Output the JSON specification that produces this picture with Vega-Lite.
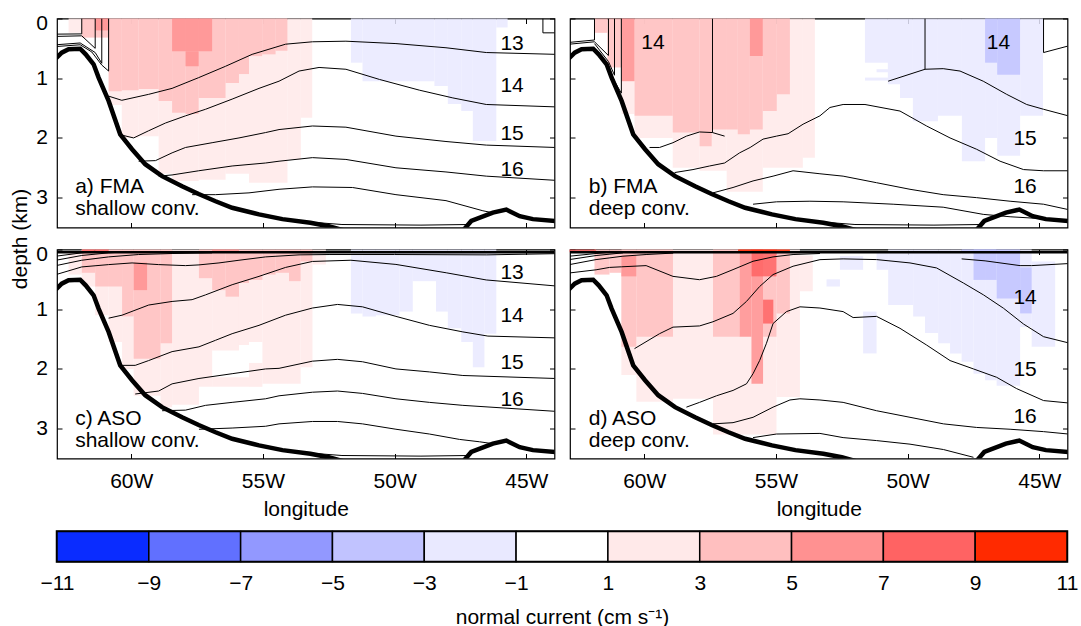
{
"$schema":"https://vega.github.io/schema/vega-lite/v6.json",
"background":"white",
"padding":{"left":8,"top":11.5,"right":0,"bottom":0},
"spacing":9,
"config":{
 "font":"Liberation Sans",
 "view":{"stroke":"black","strokeWidth":1.2},
 "axis":{"domain":false,"grid":false,"ticks":true,"tickSize":-5,"tickColor":"black","tickWidth":1,"zindex":1,
  "labelFont":"Liberation Sans","labelFontSize":21,"labelColor":"black",
  "titleFont":"Liberation Sans","titleFontSize":21,"titleFontWeight":"normal","titleColor":"black"},
 "text":{"font":"Liberation Sans","fontSize":21,"color":"black"}
},
"datasets":{
 "cells":[
  {"p":"a","x1":-62.38,"x2":-61.88,"y1":0,"y2":0.24,"v":2},
  {"p":"a","x1":-60.86,"x2":-60.36,"y1":0,"y2":1.45,"v":2},
  {"p":"a","x1":-60.36,"x2":-59.72,"y1":0,"y2":2.0,"v":2},
  {"p":"a","x1":-59.72,"x2":-58.96,"y1":0,"y2":1.97,"v":2},
  {"p":"a","x1":-58.96,"x2":-58.45,"y1":0,"y2":2.6,"v":2},
  {"p":"a","x1":-58.45,"x2":-57.44,"y1":0,"y2":2.72,"v":2},
  {"p":"a","x1":-57.44,"x2":-56.42,"y1":0,"y2":2.7,"v":2},
  {"p":"a","x1":-56.42,"x2":-55.53,"y1":0,"y2":2.6,"v":2},
  {"p":"a","x1":-55.53,"x2":-54.07,"y1":0,"y2":2.75,"v":2},
  {"p":"a","x1":-54.07,"x2":-53.56,"y1":0,"y2":2.36,"v":2},
  {"p":"a","x1":-53.56,"x2":-53.13,"y1":0,"y2":1.66,"v":2},
  {"p":"a","x1":-61.88,"x2":-60.86,"y1":0,"y2":0.32,"v":4},
  {"p":"a","x1":-60.86,"x2":-60.36,"y1":0,"y2":1.22,"v":4},
  {"p":"a","x1":-60.36,"x2":-59.72,"y1":0,"y2":1.2,"v":4},
  {"p":"a","x1":-59.72,"x2":-58.96,"y1":0,"y2":1.18,"v":4},
  {"p":"a","x1":-58.96,"x2":-58.45,"y1":0,"y2":1.38,"v":4},
  {"p":"a","x1":-58.45,"x2":-57.94,"y1":0,"y2":1.58,"v":4},
  {"p":"a","x1":-57.94,"x2":-57.44,"y1":0,"y2":1.6,"v":4},
  {"p":"a","x1":-57.44,"x2":-56.42,"y1":0,"y2":1.33,"v":4},
  {"p":"a","x1":-56.42,"x2":-55.91,"y1":0,"y2":1.08,"v":4},
  {"p":"a","x1":-55.91,"x2":-55.53,"y1":0,"y2":0.93,"v":4},
  {"p":"a","x1":-55.53,"x2":-55.03,"y1":0,"y2":0.63,"v":4},
  {"p":"a","x1":-55.03,"x2":-54.52,"y1":0,"y2":0.6,"v":4},
  {"p":"a","x1":-54.52,"x2":-54.07,"y1":0,"y2":0.54,"v":4},
  {"p":"a","x1":-61.37,"x2":-60.86,"y1":0,"y2":0.2,"v":6},
  {"p":"a","x1":-58.45,"x2":-56.93,"y1":0,"y2":0.55,"v":6},
  {"p":"a","x1":-57.94,"x2":-57.44,"y1":0.55,"y2":0.8,"v":6},
  {"p":"a","x1":-51.66,"x2":-51.22,"y1":0,"y2":0.74,"v":-2},
  {"p":"a","x1":-51.22,"x2":-48.49,"y1":0,"y2":1.05,"v":-2},
  {"p":"a","x1":-48.49,"x2":-47.98,"y1":0,"y2":1.13,"v":-2},
  {"p":"a","x1":-47.98,"x2":-47.47,"y1":0,"y2":1.43,"v":-2},
  {"p":"a","x1":-47.47,"x2":-47.03,"y1":0,"y2":1.55,"v":-2},
  {"p":"a","x1":-47.03,"x2":-46.14,"y1":0,"y2":2.05,"v":-2},
  {"p":"a","x1":-46.14,"x2":-45.71,"y1":0,"y2":0.15,"v":-2},

  {"p":"b","x1":-60.86,"x2":-60.37,"y1":0,"y2":1.6,"v":2},
  {"p":"b","x1":-60.37,"x2":-58.92,"y1":0,"y2":2.0,"v":2},
  {"p":"b","x1":-58.92,"x2":-57.9,"y1":0,"y2":2.5,"v":2},
  {"p":"b","x1":-57.9,"x2":-56.87,"y1":0,"y2":2.55,"v":2},
  {"p":"b","x1":-56.87,"x2":-55.5,"y1":0,"y2":2.9,"v":2},
  {"p":"b","x1":-55.5,"x2":-53.98,"y1":0,"y2":2.5,"v":2},
  {"p":"b","x1":-53.98,"x2":-53.52,"y1":0,"y2":2.33,"v":2},
  {"p":"b","x1":-61.89,"x2":-61.4,"y1":0,"y2":0.24,"v":4},
  {"p":"b","x1":-61.4,"x2":-60.86,"y1":0,"y2":0.82,"v":4},
  {"p":"b","x1":-60.37,"x2":-58.92,"y1":0,"y2":1.63,"v":4},
  {"p":"b","x1":-58.92,"x2":-57.9,"y1":0,"y2":1.91,"v":4},
  {"p":"b","x1":-57.9,"x2":-57.44,"y1":0,"y2":2.14,"v":4},
  {"p":"b","x1":-57.44,"x2":-56.45,"y1":0,"y2":1.86,"v":4},
  {"p":"b","x1":-56.45,"x2":-55.99,"y1":0,"y2":1.94,"v":4},
  {"p":"b","x1":-55.99,"x2":-55.5,"y1":0,"y2":1.86,"v":4},
  {"p":"b","x1":-55.5,"x2":-54.97,"y1":0,"y2":1.55,"v":4},
  {"p":"b","x1":-54.97,"x2":-54.47,"y1":0,"y2":1.27,"v":4},
  {"p":"b","x1":-60.86,"x2":-60.37,"y1":0,"y2":1.05,"v":6},
  {"p":"b","x1":-55.99,"x2":-55.5,"y1":0,"y2":0.63,"v":6},
  {"p":"b","x1":-51.62,"x2":-50.75,"y1":0,"y2":0.74,"v":-2},
  {"p":"b","x1":-51.62,"x2":-50.75,"y1":0.99,"y2":1.04,"v":-2},
  {"p":"b","x1":-51.18,"x2":-50.75,"y1":0.85,"y2":0.9,"v":-2},
  {"p":"b","x1":-50.75,"x2":-50.29,"y1":0,"y2":1.1,"v":-2},
  {"p":"b","x1":-50.29,"x2":-49.8,"y1":0,"y2":1.33,"v":-2},
  {"p":"b","x1":-49.8,"x2":-48.85,"y1":0,"y2":1.72,"v":-2},
  {"p":"b","x1":-48.85,"x2":-47.94,"y1":0,"y2":1.63,"v":-2},
  {"p":"b","x1":-47.94,"x2":-47.06,"y1":0,"y2":2.39,"v":-2},
  {"p":"b","x1":-47.06,"x2":-46.6,"y1":0,"y2":2.0,"v":-2},
  {"p":"b","x1":-46.6,"x2":-45.73,"y1":0,"y2":2.3,"v":-2},
  {"p":"b","x1":-45.73,"x2":-44.86,"y1":0,"y2":1.63,"v":-2},
  {"p":"b","x1":-47.06,"x2":-46.6,"y1":0,"y2":0.74,"v":-4},
  {"p":"b","x1":-46.6,"x2":-45.73,"y1":0,"y2":0.94,"v":-4},

  {"p":"c","x1":-62.38,"x2":-61.88,"y1":0.05,"y2":0.42,"v":2},
  {"p":"c","x1":-61.88,"x2":-61.37,"y1":0,"y2":0.62,"v":2},
  {"p":"c","x1":-61.37,"x2":-60.86,"y1":0,"y2":1.1,"v":2},
  {"p":"c","x1":-60.86,"x2":-60.35,"y1":0,"y2":1.55,"v":2},
  {"p":"c","x1":-60.35,"x2":-59.91,"y1":0,"y2":2.0,"v":2},
  {"p":"c","x1":-59.91,"x2":-58.89,"y1":0,"y2":2.45,"v":2},
  {"p":"c","x1":-58.89,"x2":-58.45,"y1":0,"y2":2.64,"v":2},
  {"p":"c","x1":-58.45,"x2":-57.43,"y1":0,"y2":2.6,"v":2},
  {"p":"c","x1":-57.43,"x2":-56.93,"y1":0,"y2":2.3,"v":2},
  {"p":"c","x1":-56.93,"x2":-55.91,"y1":0,"y2":1.69,"v":2},
  {"p":"c","x1":-56.93,"x2":-55.53,"y1":2.14,"y2":2.3,"v":2},
  {"p":"c","x1":-55.91,"x2":-55.53,"y1":0,"y2":1.6,"v":2},
  {"p":"c","x1":-55.53,"x2":-55.02,"y1":0,"y2":1.55,"v":2},
  {"p":"c","x1":-55.53,"x2":-55.02,"y1":1.9,"y2":2.3,"v":2},
  {"p":"c","x1":-55.02,"x2":-53.57,"y1":0,"y2":2.25,"v":2},
  {"p":"c","x1":-53.57,"x2":-53.12,"y1":0,"y2":1.97,"v":2},
  {"p":"c","x1":-53.12,"x2":-52.61,"y1":0,"y2":0.25,"v":2},
  {"p":"c","x1":-61.88,"x2":-61.37,"y1":0,"y2":0.39,"v":4},
  {"p":"c","x1":-61.37,"x2":-60.35,"y1":0,"y2":0.62,"v":4},
  {"p":"c","x1":-60.35,"x2":-59.91,"y1":0,"y2":1.12,"v":4},
  {"p":"c","x1":-59.91,"x2":-58.89,"y1":0,"y2":1.83,"v":4},
  {"p":"c","x1":-58.89,"x2":-58.45,"y1":0,"y2":1.57,"v":4},
  {"p":"c","x1":-57.43,"x2":-56.93,"y1":0,"y2":0.48,"v":4},
  {"p":"c","x1":-56.93,"x2":-56.42,"y1":0,"y2":0.68,"v":4},
  {"p":"c","x1":-56.42,"x2":-55.91,"y1":0,"y2":0.79,"v":4},
  {"p":"c","x1":-55.91,"x2":-55.53,"y1":0,"y2":0.56,"v":4},
  {"p":"c","x1":-55.53,"x2":-55.02,"y1":0,"y2":0.51,"v":4},
  {"p":"c","x1":-55.02,"x2":-54.52,"y1":0,"y2":0.42,"v":4},
  {"p":"c","x1":-54.52,"x2":-54.01,"y1":0,"y2":0.39,"v":4},
  {"p":"c","x1":-54.01,"x2":-53.57,"y1":0,"y2":0.53,"v":4},
  {"p":"c","x1":-53.57,"x2":-53.12,"y1":0,"y2":0.2,"v":4},
  {"p":"c","x1":-59.91,"x2":-59.4,"y1":0.22,"y2":0.68,"v":6},
  {"p":"c","x1":-56.93,"x2":-55.91,"y1":0,"y2":0.045,"v":6},
  {"p":"c","x1":-61.88,"x2":-60.86,"y1":0,"y2":0.045,"v":8},
  {"p":"c","x1":-51.66,"x2":-51.22,"y1":0,"y2":1.07,"v":-2},
  {"p":"c","x1":-51.22,"x2":-50.71,"y1":0,"y2":1.12,"v":-2},
  {"p":"c","x1":-50.71,"x2":-49.82,"y1":0,"y2":1.1,"v":-2},
  {"p":"c","x1":-49.82,"x2":-49.31,"y1":0,"y2":1.04,"v":-2},
  {"p":"c","x1":-49.31,"x2":-48.43,"y1":0,"y2":0.53,"v":-2},
  {"p":"c","x1":-48.43,"x2":-47.98,"y1":0,"y2":1.04,"v":-2},
  {"p":"c","x1":-47.98,"x2":-47.47,"y1":0,"y2":1.32,"v":-2},
  {"p":"c","x1":-47.47,"x2":-47.03,"y1":0,"y2":1.55,"v":-2},
  {"p":"c","x1":-47.03,"x2":-46.59,"y1":0,"y2":1.97,"v":-2},
  {"p":"c","x1":-46.59,"x2":-46.14,"y1":0,"y2":1.41,"v":-2},

  {"p":"d","x1":-60.87,"x2":-60.3,"y1":0,"y2":2.1,"v":2},
  {"p":"d","x1":-60.3,"x2":-58.91,"y1":0,"y2":2.55,"v":2},
  {"p":"d","x1":-58.91,"x2":-57.39,"y1":0,"y2":2.5,"v":2},
  {"p":"d","x1":-57.39,"x2":-54.98,"y1":0,"y2":3.1,"v":2},
  {"p":"d","x1":-54.98,"x2":-54.09,"y1":0,"y2":2.47,"v":2},
  {"p":"d","x1":-54.09,"x2":-53.6,"y1":0.1,"y2":0.7,"v":2},
  {"p":"d","x1":-61.89,"x2":-61.32,"y1":0,"y2":0.42,"v":4},
  {"p":"d","x1":-61.32,"x2":-60.87,"y1":0,"y2":0.39,"v":4},
  {"p":"d","x1":-60.87,"x2":-60.3,"y1":0,"y2":1.63,"v":4},
  {"p":"d","x1":-60.3,"x2":-58.91,"y1":0,"y2":1.46,"v":4},
  {"p":"d","x1":-57.39,"x2":-56.38,"y1":0,"y2":1.46,"v":4},
  {"p":"d","x1":-55.49,"x2":-54.98,"y1":0,"y2":1.46,"v":4},
  {"p":"d","x1":-54.98,"x2":-54.47,"y1":0,"y2":1.07,"v":4},
  {"p":"d","x1":-60.87,"x2":-60.3,"y1":0.1,"y2":0.45,"v":6},
  {"p":"d","x1":-56.38,"x2":-55.93,"y1":0,"y2":1.46,"v":6},
  {"p":"d","x1":-55.93,"x2":-55.49,"y1":0,"y2":2.25,"v":6},
  {"p":"d","x1":-62.84,"x2":-61.83,"y1":0,"y2":0.045,"v":8},
  {"p":"d","x1":-55.93,"x2":-54.98,"y1":0,"y2":0.45,"v":8},
  {"p":"d","x1":-55.49,"x2":-55.1,"y1":0.84,"y2":1.24,"v":8},
  {"p":"d","x1":-56.44,"x2":-54.47,"y1":0,"y2":0.045,"v":10},
  {"p":"d","x1":-53.08,"x2":-52.57,"y1":0.5,"y2":0.62,"v":-2},
  {"p":"d","x1":-52.57,"x2":-51.69,"y1":0.11,"y2":0.34,"v":-2},
  {"p":"d","x1":-51.69,"x2":-51.18,"y1":1.04,"y2":1.74,"v":-2},
  {"p":"d","x1":-51.18,"x2":-50.74,"y1":0.05,"y2":0.34,"v":-2},
  {"p":"d","x1":-50.74,"x2":-49.79,"y1":0,"y2":0.93,"v":-2},
  {"p":"d","x1":-49.79,"x2":-49.34,"y1":0,"y2":1.12,"v":-2},
  {"p":"d","x1":-49.34,"x2":-48.84,"y1":0,"y2":1.4,"v":-2},
  {"p":"d","x1":-48.84,"x2":-48.39,"y1":0,"y2":1.57,"v":-2},
  {"p":"d","x1":-48.39,"x2":-47.95,"y1":0,"y2":1.74,"v":-2},
  {"p":"d","x1":-47.95,"x2":-47.5,"y1":0,"y2":1.88,"v":-2},
  {"p":"d","x1":-47.5,"x2":-47.06,"y1":0,"y2":2.08,"v":-2},
  {"p":"d","x1":-47.06,"x2":-46.62,"y1":0,"y2":2.19,"v":-2},
  {"p":"d","x1":-46.62,"x2":-45.73,"y1":0,"y2":2.28,"v":-2},
  {"p":"d","x1":-45.73,"x2":-45.29,"y1":0,"y2":1.3,"v":-2},
  {"p":"d","x1":-45.29,"x2":-44.4,"y1":0.2,"y2":1.63,"v":-2},
  {"p":"d","x1":-47.95,"x2":-46.62,"y1":0,"y2":0.06,"v":-4},
  {"p":"d","x1":-47.5,"x2":-46.62,"y1":0,"y2":0.51,"v":-4},
  {"p":"d","x1":-46.62,"x2":-45.73,"y1":0,"y2":0.82,"v":-4},
  {"p":"d","x1":-45.73,"x2":-45.29,"y1":0.3,"y2":1.07,"v":-4}
 ],
 "lines":[
  {"p":"a","k":"a0a","x":-62.86,"y":0.262},{"p":"a","k":"a0a","x":-61.88,"y":0.258},{"p":"a","k":"a0a","x":-61.88,"y":0},
  {"p":"a","k":"a0b","x":-62.86,"y":0.3},{"p":"a","k":"a0b","x":-61.88,"y":0.29},{"p":"a","k":"a0b","x":-61.37,"y":0.5},{"p":"a","k":"a0b","x":-61.37,"y":0},
  {"p":"a","k":"a0c","x":-62.86,"y":0.44},{"p":"a","k":"a0c","x":-61.94,"y":0.41},{"p":"a","k":"a0c","x":-61.37,"y":0.57},{"p":"a","k":"a0c","x":-61.12,"y":0.75},{"p":"a","k":"a0c","x":-61.12,"y":0},
  {"p":"a","k":"a0d","x":-62.86,"y":0.47},{"p":"a","k":"a0d","x":-61.94,"y":0.44},{"p":"a","k":"a0d","x":-61.5,"y":0.56},{"p":"a","k":"a0d","x":-61.12,"y":0.78},{"p":"a","k":"a0d","x":-60.86,"y":0.88},{"p":"a","k":"a0d","x":-60.86,"y":0},
  {"p":"a","k":"abox","x":-44.37,"y":0},{"p":"a","k":"abox","x":-44.37,"y":0.24},{"p":"a","k":"abox","x":-43.9,"y":0.24},
  {"p":"a","k":"aL1","x":-60.86,"y":1.30},{"p":"a","k":"aL1","x":-60.36,"y":1.37},{"p":"a","k":"aL1","x":-59.34,"y":1.27},{"p":"a","k":"aL1","x":-58.45,"y":1.17},{"p":"a","k":"aL1","x":-57.44,"y":0.99},{"p":"a","k":"aL1","x":-56.42,"y":0.80},{"p":"a","k":"aL1","x":-55.41,"y":0.60},{"p":"a","k":"aL1","x":-54.14,"y":0.43},{"p":"a","k":"aL1","x":-53.12,"y":0.39},{"p":"a","k":"aL1","x":-51.85,"y":0.38},{"p":"a","k":"aL1","x":-49.95,"y":0.42},{"p":"a","k":"aL1","x":-48.05,"y":0.49},{"p":"a","k":"aL1","x":-46.52,"y":0.57},{"p":"a","k":"aL1","x":-43.9,"y":0.60},
  {"p":"a","k":"aL2","x":-60.48,"y":1.94},{"p":"a","k":"aL2","x":-59.91,"y":2.0},{"p":"a","k":"aL2","x":-59.34,"y":1.88},{"p":"a","k":"aL2","x":-58.70,"y":1.75},{"p":"a","k":"aL2","x":-57.94,"y":1.63},{"p":"a","k":"aL2","x":-57.18,"y":1.52},{"p":"a","k":"aL2","x":-56.17,"y":1.35},{"p":"a","k":"aL2","x":-55.15,"y":1.17},{"p":"a","k":"aL2","x":-54.39,"y":1.05},{"p":"a","k":"aL2","x":-53.63,"y":0.88},{"p":"a","k":"aL2","x":-52.87,"y":0.82},{"p":"a","k":"aL2","x":-51.85,"y":0.85},{"p":"a","k":"aL2","x":-50.58,"y":1.02},{"p":"a","k":"aL2","x":-49.06,"y":1.20},{"p":"a","k":"aL2","x":-47.79,"y":1.33},{"p":"a","k":"aL2","x":-46.52,"y":1.44},{"p":"a","k":"aL2","x":-43.9,"y":1.48},
  {"p":"a","k":"aL3","x":-59.72,"y":2.39},{"p":"a","k":"aL3","x":-59.08,"y":2.38},{"p":"a","k":"aL3","x":-58.45,"y":2.25},{"p":"a","k":"aL3","x":-57.94,"y":2.16},{"p":"a","k":"aL3","x":-56.93,"y":2.08},{"p":"a","k":"aL3","x":-55.91,"y":2.0},{"p":"a","k":"aL3","x":-54.90,"y":1.91},{"p":"a","k":"aL3","x":-54.39,"y":1.86},{"p":"a","k":"aL3","x":-53.12,"y":1.80},{"p":"a","k":"aL3","x":-51.85,"y":1.82},{"p":"a","k":"aL3","x":-49.95,"y":1.97},{"p":"a","k":"aL3","x":-48.05,"y":2.06},{"p":"a","k":"aL3","x":-46.52,"y":2.12},{"p":"a","k":"aL3","x":-43.9,"y":2.16},
  {"p":"a","k":"aL4","x":-58.96,"y":2.64},{"p":"a","k":"aL4","x":-58.45,"y":2.62},{"p":"a","k":"aL4","x":-57.44,"y":2.55},{"p":"a","k":"aL4","x":-56.17,"y":2.47},{"p":"a","k":"aL4","x":-54.90,"y":2.42},{"p":"a","k":"aL4","x":-54.39,"y":2.39},{"p":"a","k":"aL4","x":-53.12,"y":2.33},{"p":"a","k":"aL4","x":-51.85,"y":2.36},{"p":"a","k":"aL4","x":-49.95,"y":2.50},{"p":"a","k":"aL4","x":-48.05,"y":2.57},{"p":"a","k":"aL4","x":-46.52,"y":2.64},{"p":"a","k":"aL4","x":-43.9,"y":2.71},
  {"p":"a","k":"aL5","x":-57.69,"y":2.95},{"p":"a","k":"aL5","x":-56.80,"y":2.95},{"p":"a","k":"aL5","x":-55.53,"y":2.92},{"p":"a","k":"aL5","x":-54.39,"y":2.86},{"p":"a","k":"aL5","x":-53.12,"y":2.82},{"p":"a","k":"aL5","x":-51.60,"y":2.83},{"p":"a","k":"aL5","x":-49.95,"y":2.95},{"p":"a","k":"aL5","x":-48.05,"y":3.05},{"p":"a","k":"aL5","x":-46.65,"y":3.22},{"p":"a","k":"aL5","x":-46.2,"y":3.26},
  {"p":"a","k":"aL6","x":-55.0,"y":3.3},{"p":"a","k":"aL6","x":-53.5,"y":3.4},{"p":"a","k":"aL6","x":-52.0,"y":3.45},{"p":"a","k":"aL6","x":-49.0,"y":3.46},{"p":"a","k":"aL6","x":-47.2,"y":3.45},

  {"p":"b","k":"b0a","x":-62.84,"y":0.40},{"p":"b","k":"b0a","x":-61.89,"y":0.36},{"p":"b","k":"b0a","x":-61.89,"y":0},
  {"p":"b","k":"b0b","x":-62.84,"y":0.43},{"p":"b","k":"b0b","x":-61.89,"y":0.39},{"p":"b","k":"b0b","x":-61.36,"y":0.62},{"p":"b","k":"b0b","x":-61.36,"y":0},
  {"p":"b","k":"b0c","x":-61.89,"y":0.42},{"p":"b","k":"b0c","x":-61.36,"y":0.72},{"p":"b","k":"b0c","x":-61.13,"y":0.95},{"p":"b","k":"b0c","x":-61.13,"y":0},
  {"p":"b","k":"b0d","x":-61.36,"y":0.78},{"p":"b","k":"b0d","x":-61.13,"y":1.05},{"p":"b","k":"b0d","x":-60.87,"y":1.25},{"p":"b","k":"b0d","x":-60.87,"y":0},
  {"p":"b","k":"b14","x":-59.80,"y":2.16},{"p":"b","k":"b14","x":-59.42,"y":2.16},{"p":"b","k":"b14","x":-58.91,"y":2.08},{"p":"b","k":"b14","x":-58.40,"y":1.97},{"p":"b","k":"b14","x":-57.90,"y":1.90},{"p":"b","k":"b14","x":-57.41,"y":1.91},{"p":"b","k":"b14","x":-56.95,"y":1.97},
  {"p":"b","k":"b14v","x":-57.41,"y":1.91},{"p":"b","k":"b14v","x":-57.41,"y":0},
  {"p":"b","k":"bY","x":-58.85,"y":2.58},{"p":"b","k":"bY","x":-58.15,"y":2.53},{"p":"b","k":"bY","x":-57.52,"y":2.47},{"p":"b","k":"bY","x":-56.95,"y":2.42},{"p":"b","k":"bY","x":-56.38,"y":2.25},{"p":"b","k":"bY","x":-55.98,"y":2.16},{"p":"b","k":"bY","x":-55.49,"y":2.02},{"p":"b","k":"bY","x":-54.98,"y":1.97},{"p":"b","k":"bY","x":-54.54,"y":1.93},{"p":"b","k":"bY","x":-53.97,"y":1.77},{"p":"b","k":"bY","x":-53.33,"y":1.63},{"p":"b","k":"bY","x":-52.95,"y":1.49},{"p":"b","k":"bY","x":-52.45,"y":1.44},{"p":"b","k":"bY","x":-51.62,"y":1.44},{"p":"b","k":"bY","x":-50.29,"y":1.55},{"p":"b","k":"bY","x":-49.28,"y":1.80},{"p":"b","k":"bY","x":-48.39,"y":2.0},{"p":"b","k":"bY","x":-47.38,"y":2.19},{"p":"b","k":"bY","x":-46.49,"y":2.39},{"p":"b","k":"bY","x":-45.60,"y":2.53},{"p":"b","k":"bY","x":-44.84,"y":2.55},{"p":"b","k":"bY","x":-43.9,"y":2.55},
  {"p":"b","k":"bZ","x":-57.39,"y":2.92},{"p":"b","k":"bZ","x":-56.63,"y":2.83},{"p":"b","k":"bZ","x":-55.87,"y":2.72},{"p":"b","k":"bZ","x":-55.11,"y":2.64},{"p":"b","k":"bZ","x":-54.35,"y":2.55},{"p":"b","k":"bZ","x":-53.33,"y":2.60},{"p":"b","k":"bZ","x":-52.45,"y":2.64},{"p":"b","k":"bZ","x":-51.18,"y":2.75},{"p":"b","k":"bZ","x":-49.91,"y":2.86},{"p":"b","k":"bZ","x":-48.65,"y":2.95},{"p":"b","k":"bZ","x":-47.38,"y":3.0},{"p":"b","k":"bZ","x":-46.11,"y":3.06},{"p":"b","k":"bZ","x":-44.84,"y":3.11},{"p":"b","k":"bZ","x":-43.9,"y":3.2},
  {"p":"b","k":"bW","x":-55.87,"y":3.11},{"p":"b","k":"bW","x":-54.98,"y":3.07},{"p":"b","k":"bW","x":-53.71,"y":3.06},{"p":"b","k":"bW","x":-52.45,"y":3.07},{"p":"b","k":"bW","x":-50.55,"y":3.11},{"p":"b","k":"bW","x":-48.65,"y":3.16},{"p":"b","k":"bW","x":-47.13,"y":3.28},{"p":"b","k":"bW","x":-46.11,"y":3.32},{"p":"b","k":"bW","x":-44.97,"y":3.35},{"p":"b","k":"bW","x":-43.9,"y":3.37},
  {"p":"b","k":"bX","x":-50.74,"y":1.05},{"p":"b","k":"bX","x":-49.34,"y":0.85},{"p":"b","k":"bX","x":-48.65,"y":0.84},{"p":"b","k":"bX","x":-48.01,"y":0.88},{"p":"b","k":"bX","x":-47.13,"y":1.05},{"p":"b","k":"bX","x":-46.24,"y":1.27},{"p":"b","k":"bX","x":-45.48,"y":1.44},{"p":"b","k":"bX","x":-44.84,"y":1.52},{"p":"b","k":"bX","x":-43.9,"y":1.63},
  {"p":"b","k":"bXv","x":-49.34,"y":0.85},{"p":"b","k":"bXv","x":-49.34,"y":0},
  {"p":"b","k":"bR","x":-44.84,"y":0},{"p":"b","k":"bR","x":-44.84,"y":0.57},{"p":"b","k":"bR","x":-43.9,"y":0.46},
  {"p":"b","k":"bL6","x":-55.0,"y":3.3},{"p":"b","k":"bL6","x":-53.5,"y":3.4},{"p":"b","k":"bL6","x":-52.0,"y":3.45},{"p":"b","k":"bL6","x":-49.0,"y":3.46},{"p":"b","k":"bL6","x":-47.2,"y":3.45},

  {"p":"c","k":"cU1","x":-62.86,"y":0.112},{"p":"c","k":"cU1","x":-61.88,"y":0.056},{"p":"c","k":"cU1","x":-61.37,"y":0.03},
  {"p":"c","k":"cU2","x":-62.86,"y":0.18},{"p":"c","k":"cU2","x":-61.88,"y":0.10},{"p":"c","k":"cU2","x":-60.86,"y":0.056},{"p":"c","k":"cU2","x":-59.97,"y":0.034},
  {"p":"c","k":"cU3","x":-62.86,"y":0.27},{"p":"c","k":"cU3","x":-61.88,"y":0.18},{"p":"c","k":"cU3","x":-60.86,"y":0.124},{"p":"c","k":"cU3","x":-59.72,"y":0.084},{"p":"c","k":"cU3","x":-58.45,"y":0.067},{"p":"c","k":"cU3","x":-56.93,"y":0.056},
  {"p":"c","k":"cU4","x":-62.86,"y":0.42},{"p":"c","k":"cU4","x":-61.88,"y":0.292},{"p":"c","k":"cU4","x":-60.86,"y":0.253},{"p":"c","k":"cU4","x":-59.97,"y":0.225},{"p":"c","k":"cU4","x":-58.96,"y":0.253},{"p":"c","k":"cU4","x":-57.94,"y":0.27},{"p":"c","k":"cU4","x":-57.43,"y":0.258},{"p":"c","k":"cU4","x":-56.67,"y":0.225},{"p":"c","k":"cU4","x":-55.91,"y":0.18},{"p":"c","k":"cU4","x":-54.90,"y":0.124},{"p":"c","k":"cU4","x":-53.63,"y":0.09},{"p":"c","k":"cU4","x":-52.49,"y":0.084},{"p":"c","k":"cU4","x":-50.0,"y":0.084},{"p":"c","k":"cU4","x":-46.5,"y":0.09},{"p":"c","k":"cU4","x":-43.9,"y":0.07},
  {"p":"c","k":"cA","x":-60.86,"y":1.15},{"p":"c","k":"cA","x":-60.35,"y":1.10},{"p":"c","k":"cA","x":-59.34,"y":0.93},{"p":"c","k":"cA","x":-58.45,"y":0.87},{"p":"c","k":"cA","x":-57.69,"y":0.84},{"p":"c","k":"cA","x":-57.18,"y":0.76},{"p":"c","k":"cA","x":-56.17,"y":0.59},{"p":"c","k":"cA","x":-55.15,"y":0.45},{"p":"c","k":"cA","x":-54.14,"y":0.30},{"p":"c","k":"cA","x":-53.12,"y":0.20},{"p":"c","k":"cA","x":-51.66,"y":0.18},{"p":"c","k":"cA","x":-49.95,"y":0.25},{"p":"c","k":"cA","x":-48.04,"y":0.39},{"p":"c","k":"cA","x":-46.52,"y":0.51},{"p":"c","k":"cA","x":-43.9,"y":0.61},
  {"p":"c","k":"cB","x":-60.35,"y":1.94},{"p":"c","k":"cB","x":-59.85,"y":1.94},{"p":"c","k":"cB","x":-59.34,"y":1.86},{"p":"c","k":"cB","x":-58.45,"y":1.71},{"p":"c","k":"cB","x":-57.43,"y":1.63},{"p":"c","k":"cB","x":-56.80,"y":1.52},{"p":"c","k":"cB","x":-56.17,"y":1.41},{"p":"c","k":"cB","x":-55.15,"y":1.27},{"p":"c","k":"cB","x":-54.14,"y":1.10},{"p":"c","k":"cB","x":-53.12,"y":0.98},{"p":"c","k":"cB","x":-52.17,"y":0.92},{"p":"c","k":"cB","x":-51.22,"y":0.96},{"p":"c","k":"cB","x":-49.95,"y":1.12},{"p":"c","k":"cB","x":-48.68,"y":1.27},{"p":"c","k":"cB","x":-47.41,"y":1.38},{"p":"c","k":"cB","x":-46.46,"y":1.45},{"p":"c","k":"cB","x":-43.9,"y":1.48},
  {"p":"c","k":"cC","x":-59.85,"y":2.42},{"p":"c","k":"cC","x":-58.96,"y":2.37},{"p":"c","k":"cC","x":-58.45,"y":2.25},{"p":"c","k":"cC","x":-57.43,"y":2.16},{"p":"c","k":"cC","x":-56.17,"y":2.08},{"p":"c","k":"cC","x":-54.90,"y":2.0},{"p":"c","k":"cC","x":-54.39,"y":1.99},{"p":"c","k":"cC","x":-53.12,"y":1.87},{"p":"c","k":"cC","x":-52.17,"y":1.84},{"p":"c","k":"cC","x":-51.22,"y":1.88},{"p":"c","k":"cC","x":-49.95,"y":2.0},{"p":"c","k":"cC","x":-48.68,"y":2.05},{"p":"c","k":"cC","x":-47.41,"y":2.11},{"p":"c","k":"cC","x":-43.9,"y":2.16},
  {"p":"c","k":"cD","x":-58.83,"y":2.70},{"p":"c","k":"cD","x":-57.94,"y":2.69},{"p":"c","k":"cD","x":-57.18,"y":2.61},{"p":"c","k":"cD","x":-56.17,"y":2.56},{"p":"c","k":"cD","x":-54.90,"y":2.50},{"p":"c","k":"cD","x":-54.39,"y":2.45},{"p":"c","k":"cD","x":-53.12,"y":2.39},{"p":"c","k":"cD","x":-52.17,"y":2.37},{"p":"c","k":"cD","x":-51.22,"y":2.41},{"p":"c","k":"cD","x":-49.95,"y":2.50},{"p":"c","k":"cD","x":-48.68,"y":2.56},{"p":"c","k":"cD","x":-47.41,"y":2.61},{"p":"c","k":"cD","x":-43.9,"y":2.71},
  {"p":"c","k":"cE","x":-57.43,"y":3.01},{"p":"c","k":"cE","x":-56.17,"y":2.99},{"p":"c","k":"cE","x":-54.90,"y":2.96},{"p":"c","k":"cE","x":-54.39,"y":2.92},{"p":"c","k":"cE","x":-53.12,"y":2.88},{"p":"c","k":"cE","x":-52.17,"y":2.88},{"p":"c","k":"cE","x":-51.22,"y":2.92},{"p":"c","k":"cE","x":-49.95,"y":3.01},{"p":"c","k":"cE","x":-48.68,"y":3.09},{"p":"c","k":"cE","x":-47.54,"y":3.18},{"p":"c","k":"cE","x":-46.78,"y":3.22},{"p":"c","k":"cE","x":-46.3,"y":3.25},
  {"p":"c","k":"cF","x":-55.0,"y":3.3},{"p":"c","k":"cF","x":-53.5,"y":3.4},{"p":"c","k":"cF","x":-52.0,"y":3.45},{"p":"c","k":"cF","x":-49.0,"y":3.46},{"p":"c","k":"cF","x":-47.2,"y":3.45},

  {"p":"d","k":"dU1","x":-62.84,"y":0.112},{"p":"d","k":"dU1","x":-61.83,"y":0.067},{"p":"d","k":"dU1","x":-61.3,"y":0.045},
  {"p":"d","k":"dU2","x":-62.84,"y":0.169},{"p":"d","k":"dU2","x":-61.83,"y":0.101},{"p":"d","k":"dU2","x":-60.81,"y":0.056},
  {"p":"d","k":"dU3","x":-62.84,"y":0.253},{"p":"d","k":"dU3","x":-61.83,"y":0.169},{"p":"d","k":"dU3","x":-60.81,"y":0.112},{"p":"d","k":"dU3","x":-59.93,"y":0.084},{"p":"d","k":"dU3","x":-58.9,"y":0.06},
  {"p":"d","k":"dU4","x":-62.84,"y":0.393},{"p":"d","k":"dU4","x":-61.83,"y":0.34},{"p":"d","k":"dU4","x":-61.32,"y":0.30},{"p":"d","k":"dU4","x":-60.87,"y":0.29},{"p":"d","k":"dU4","x":-59.93,"y":0.27},{"p":"d","k":"dU4","x":-58.91,"y":0.45},{"p":"d","k":"dU4","x":-57.90,"y":0.506},{"p":"d","k":"dU4","x":-57.26,"y":0.45},{"p":"d","k":"dU4","x":-56.63,"y":0.337},{"p":"d","k":"dU4","x":-55.87,"y":0.197},{"p":"d","k":"dU4","x":-55.11,"y":0.124},{"p":"d","k":"dU4","x":-54.35,"y":0.084},{"p":"d","k":"dU4","x":-53.33,"y":0.067},
  {"p":"d","k":"d2","x":-60.37,"y":1.66},{"p":"d","k":"d2","x":-59.42,"y":1.41},{"p":"d","k":"d2","x":-58.91,"y":1.30},{"p":"d","k":"d2","x":-57.90,"y":1.28},{"p":"d","k":"d2","x":-57.39,"y":1.21},{"p":"d","k":"d2","x":-56.63,"y":1.07},{"p":"d","k":"d2","x":-56.12,"y":0.87},{"p":"d","k":"d2","x":-55.62,"y":0.62},{"p":"d","k":"d2","x":-55.11,"y":0.42},{"p":"d","k":"d2","x":-54.35,"y":0.28},{"p":"d","k":"d2","x":-53.33,"y":0.17},{"p":"d","k":"d2","x":-52.45,"y":0.157},{"p":"d","k":"d2","x":-51.18,"y":0.169},{"p":"d","k":"d2","x":-49.91,"y":0.225},{"p":"d","k":"d2","x":-48.90,"y":0.309},{"p":"d","k":"d2","x":-47.88,"y":0.562},{"p":"d","k":"d2","x":-47.12,"y":0.76},{"p":"d","k":"d2","x":-46.36,"y":0.984},{"p":"d","k":"d2","x":-45.60,"y":1.248},{"p":"d","k":"d2","x":-44.84,"y":1.46},{"p":"d","k":"d2","x":-43.9,"y":1.563},
  {"p":"d","k":"d3","x":-58.40,"y":2.64},{"p":"d","k":"d3","x":-57.90,"y":2.56},{"p":"d","k":"d3","x":-57.26,"y":2.45},{"p":"d","k":"d3","x":-56.63,"y":2.36},{"p":"d","k":"d3","x":-56.12,"y":2.25},{"p":"d","k":"d3","x":-55.87,"y":2.08},{"p":"d","k":"d3","x":-55.62,"y":1.86},{"p":"d","k":"d3","x":-55.36,"y":1.57},{"p":"d","k":"d3","x":-55.11,"y":1.24},{"p":"d","k":"d3","x":-54.60,"y":1.04},{"p":"d","k":"d3","x":-54.09,"y":0.96},{"p":"d","k":"d3","x":-53.33,"y":0.98},{"p":"d","k":"d3","x":-52.45,"y":1.04},{"p":"d","k":"d3","x":-52.07,"y":1.14},{"p":"d","k":"d3","x":-51.18,"y":1.12},{"p":"d","k":"d3","x":-50.29,"y":1.32},{"p":"d","k":"d3","x":-49.28,"y":1.60},{"p":"d","k":"d3","x":-48.39,"y":1.86},{"p":"d","k":"d3","x":-47.50,"y":2.0},{"p":"d","k":"d3","x":-46.62,"y":2.14},{"p":"d","k":"d3","x":-45.86,"y":2.33},{"p":"d","k":"d3","x":-44.84,"y":2.53},{"p":"d","k":"d3","x":-43.9,"y":2.57},
  {"p":"d","k":"d4","x":-57.39,"y":2.92},{"p":"d","k":"d4","x":-56.63,"y":2.90},{"p":"d","k":"d4","x":-55.87,"y":2.81},{"p":"d","k":"d4","x":-55.11,"y":2.64},{"p":"d","k":"d4","x":-54.47,"y":2.52},{"p":"d","k":"d4","x":-54.09,"y":2.50},{"p":"d","k":"d4","x":-53.33,"y":2.52},{"p":"d","k":"d4","x":-52.45,"y":2.56},{"p":"d","k":"d4","x":-51.18,"y":2.70},{"p":"d","k":"d4","x":-49.91,"y":2.81},{"p":"d","k":"d4","x":-48.64,"y":2.92},{"p":"d","k":"d4","x":-47.38,"y":2.98},{"p":"d","k":"d4","x":-46.11,"y":3.01},{"p":"d","k":"d4","x":-44.84,"y":3.05},{"p":"d","k":"d4","x":-43.9,"y":3.09},
  {"p":"d","k":"d5","x":-55.87,"y":3.15},{"p":"d","k":"d5","x":-54.98,"y":3.09},{"p":"d","k":"d5","x":-53.33,"y":3.08},{"p":"d","k":"d5","x":-52.45,"y":3.15},{"p":"d","k":"d5","x":-51.18,"y":3.20},{"p":"d","k":"d5","x":-49.91,"y":3.26},{"p":"d","k":"d5","x":-48.64,"y":3.35},{"p":"d","k":"d5","x":-47.5,"y":3.48},
  {"p":"d","k":"dTR","x":-47.95,"y":0.157},{"p":"d","k":"dTR","x":-47.06,"y":0.19},{"p":"d","k":"dTR","x":-45.73,"y":0.27},{"p":"d","k":"dTR","x":-45.29,"y":0.27},{"p":"d","k":"dTR","x":-43.9,"y":0.236}
 ],
 "surface":[
  {"p":"c","x":-62.9,"y":0.045},{"p":"c","x":-43.9,"y":0.045},
  {"p":"d","x":-62.9,"y":0.045},{"p":"d","x":-43.9,"y":0.045}
 ],
 "bathy":[
  {"x":-62.86,"y":0.667},{"x":-62.64,"y":0.573},{"x":-62.38,"y":0.516},{"x":-61.94,"y":0.506},{"x":-61.73,"y":0.6},{"x":-61.43,"y":0.767},{"x":-61.24,"y":0.99},{"x":-60.86,"y":1.38},{"x":-60.42,"y":1.94},{"x":-59.97,"y":2.19},{"x":-59.47,"y":2.44},{"x":-58.83,"y":2.64},{"x":-58.07,"y":2.81},{"x":-57.44,"y":2.94},{"x":-56.80,"y":3.06},{"x":-56.17,"y":3.17},{"x":-55.15,"y":3.28},{"x":-54.26,"y":3.36},{"x":-53.2,"y":3.42},{"x":-52.5,"y":3.48},{"x":-51.5,"y":3.6},{"x":-48,"y":3.65},{"x":-47.4,"y":3.55},{"x":-47.09,"y":3.39},{"x":-46.27,"y":3.25},{"x":-45.76,"y":3.2},{"x":-45.25,"y":3.31},{"x":-44.75,"y":3.36},{"x":-43.9,"y":3.39}
 ],
 "names":[
  {"p":"a","x":-62.13,"y":2.83,"t":"a) FMA"},{"p":"a","x":-62.13,"y":3.19,"t":"shallow conv."},
  {"p":"b","x":-62.11,"y":2.83,"t":"b) FMA"},{"p":"b","x":-62.11,"y":3.19,"t":"deep conv."},
  {"p":"c","x":-62.13,"y":2.84,"t":"c) ASO"},{"p":"c","x":-62.13,"y":3.2,"t":"shallow conv."},
  {"p":"d","x":-62.11,"y":2.84,"t":"d) ASO"},{"p":"d","x":-62.11,"y":3.2,"t":"deep conv."}
 ],
 "clabels":[
  {"p":"a","x":-45.54,"y":0.43,"t":"13"},{"p":"a","x":-45.54,"y":1.13,"t":"14"},{"p":"a","x":-45.54,"y":1.94,"t":"15"},{"p":"a","x":-45.54,"y":2.53,"t":"16"},
  {"p":"b","x":-59.67,"y":0.405,"t":"14"},{"p":"b","x":-46.55,"y":0.405,"t":"14"},{"p":"b","x":-45.54,"y":2.02,"t":"15"},{"p":"b","x":-45.54,"y":2.83,"t":"16"},
  {"p":"c","x":-45.54,"y":0.39,"t":"13"},{"p":"c","x":-45.54,"y":1.11,"t":"14"},{"p":"c","x":-45.54,"y":1.9,"t":"15"},{"p":"c","x":-45.54,"y":2.52,"t":"16"},
  {"p":"d","x":-45.54,"y":0.815,"t":"14"},{"p":"d","x":-45.54,"y":2.01,"t":"15"},{"p":"d","x":-45.54,"y":2.81,"t":"16"}
 ],
 "bar":[
  {"lo":-11,"hi":-9,"m":-10},{"lo":-9,"hi":-7,"m":-8},{"lo":-7,"hi":-5,"m":-6},{"lo":-5,"hi":-3,"m":-4},{"lo":-3,"hi":-1,"m":-2},{"lo":-1,"hi":1,"m":0},{"lo":1,"hi":3,"m":2},{"lo":3,"hi":5,"m":4},{"lo":5,"hi":7,"m":6},{"lo":7,"hi":9,"m":8},{"lo":9,"hi":11,"m":10}
 ]
},
"vconcat":[
 {
  "columns":2,
  "spacing":{"row":22,"column":15},
  "bounds":"flush",
  "concat":[
   {
    "width":497.5,"height":209,
    "layer":[
     {"data":{"name":"cells"},"transform":[{"filter":"datum.p === 'a'"}],
      "mark":{"type":"rect","opacity":0.85},
      "encoding":{
       "x":{"field":"x1","type":"quantitative","scale":{"domain":[-62.82,-43.93],"nice":false,"zero":false},
            "axis":{"orient":"bottom","values":[-60,-55,-50,-45],"labels":false,"title":null}},
       "x2":{"field":"x2"},
       "y":{"field":"y1","type":"quantitative","scale":{"domain":[0,3.5],"reverse":true,"nice":false,"zero":false},
            "axis":{"values":[0,1,2,3],"title":"depth (km)","titleX":-31,"titleY":220,"titleBaseline":"alphabetic","titleAngle":-90,"labelPadding":14.5,"labelFlush":true,"labelFlushOffset":6}},
       "y2":{"field":"y2"},
       "color":{"field":"v","type":"quantitative","scale":{"type":"threshold","domain":[-9,-7,-5,-3,-1,1,3,5,7,9],"range":["#0A2CFF","#6170FF","#9298FF","#C1C3FF","#E9E9FF","#FFFFFF","#FFE9E9","#FFBFBF","#FF9191","#FF6363","#FF2A00"]},"legend":null}
      }},
     {"data":{"name":"lines"},"transform":[{"filter":"datum.p === 'a'"}],
      "mark":{"type":"line","color":"black","strokeWidth":1,"clip":true},
      "encoding":{"x":{"field":"x","type":"quantitative","axis":null},"y":{"field":"y","type":"quantitative","axis":null},"detail":{"field":"k"},"order":{"value":null}}},
     {"data":{"name":"bathy"},
      "mark":{"type":"line","color":"black","strokeWidth":4.5,"clip":true},
      "encoding":{"x":{"field":"x","type":"quantitative","axis":null},"y":{"field":"y","type":"quantitative","axis":null},"order":{"value":null}}},
     {"data":{"name":"names"},"transform":[{"filter":"datum.p === 'a'"}],
      "mark":{"type":"text","align":"left","baseline":"middle","fontSize":21},
      "encoding":{"x":{"field":"x","type":"quantitative","axis":null},"y":{"field":"y","type":"quantitative","axis":null},"text":{"field":"t"}}},
     {"data":{"name":"clabels"},"transform":[{"filter":"datum.p === 'a'"}],
      "mark":{"type":"text","align":"center","baseline":"middle","fontSize":21},
      "encoding":{"x":{"field":"x","type":"quantitative","axis":{"orient":"top","values":[-60,-55,-50,-45],"labels":false,"title":null}},
                  "y":{"field":"y","type":"quantitative","axis":{"orient":"right","values":[0,1,2,3],"labels":false,"title":null}},"text":{"field":"t"}}}
    ],
    "resolve":{"axis":{"x":"independent","y":"independent"}}
   },
   {
    "width":497.5,"height":209,
    "layer":[
     {"data":{"name":"cells"},"transform":[{"filter":"datum.p === 'b'"}],
      "mark":{"type":"rect","opacity":0.85},
      "encoding":{
       "x":{"field":"x1","type":"quantitative","scale":{"domain":[-62.82,-43.93],"nice":false,"zero":false},
            "axis":{"orient":"bottom","values":[-60,-55,-50,-45],"labels":false,"title":null}},
       "x2":{"field":"x2"},
       "y":{"field":"y1","type":"quantitative","scale":{"domain":[0,3.5],"reverse":true,"nice":false,"zero":false},
            "axis":{"values":[0,1,2,3],"labels":false,"title":null}},
       "y2":{"field":"y2"},
       "color":{"field":"v","type":"quantitative","scale":{"type":"threshold","domain":[-9,-7,-5,-3,-1,1,3,5,7,9],"range":["#0A2CFF","#6170FF","#9298FF","#C1C3FF","#E9E9FF","#FFFFFF","#FFE9E9","#FFBFBF","#FF9191","#FF6363","#FF2A00"]},"legend":null}
      }},
     {"data":{"name":"lines"},"transform":[{"filter":"datum.p === 'b'"}],
      "mark":{"type":"line","color":"black","strokeWidth":1,"clip":true},
      "encoding":{"x":{"field":"x","type":"quantitative","axis":null},"y":{"field":"y","type":"quantitative","axis":null},"detail":{"field":"k"},"order":{"value":null}}},
     {"data":{"name":"bathy"},
      "mark":{"type":"line","color":"black","strokeWidth":4.5,"clip":true},
      "encoding":{"x":{"field":"x","type":"quantitative","axis":null},"y":{"field":"y","type":"quantitative","axis":null},"order":{"value":null}}},
     {"data":{"name":"names"},"transform":[{"filter":"datum.p === 'b'"}],
      "mark":{"type":"text","align":"left","baseline":"middle","fontSize":21},
      "encoding":{"x":{"field":"x","type":"quantitative","axis":null},"y":{"field":"y","type":"quantitative","axis":null},"text":{"field":"t"}}},
     {"data":{"name":"clabels"},"transform":[{"filter":"datum.p === 'b'"}],
      "mark":{"type":"text","align":"center","baseline":"middle","fontSize":21},
      "encoding":{"x":{"field":"x","type":"quantitative","axis":{"orient":"top","values":[-60,-55,-50,-45],"labels":false,"title":null}},
                  "y":{"field":"y","type":"quantitative","axis":{"orient":"right","values":[0,1,2,3],"labels":false,"title":null}},"text":{"field":"t"}}}
    ],
    "resolve":{"axis":{"x":"independent","y":"independent"}}
   },
   {
    "width":497.5,"height":209,
    "layer":[
     {"data":{"name":"cells"},"transform":[{"filter":"datum.p === 'c'"}],
      "mark":{"type":"rect","opacity":0.85},
      "encoding":{
       "x":{"field":"x1","type":"quantitative","scale":{"domain":[-62.82,-43.93],"nice":false,"zero":false},
            "axis":{"orient":"bottom","values":[-60,-55,-50,-45],"labelExpr":"abs(datum.value) + 'W'","labelPadding":17,"labelFlush":false,"title":"longitude","titlePadding":7}},
       "x2":{"field":"x2"},
       "y":{"field":"y1","type":"quantitative","scale":{"domain":[0,3.5],"reverse":true,"nice":false,"zero":false},
            "axis":{"values":[0,1,2,3],"title":null,"labelPadding":14.5,"labelFlush":true,"labelFlushOffset":6}},
       "y2":{"field":"y2"},
       "color":{"field":"v","type":"quantitative","scale":{"type":"threshold","domain":[-9,-7,-5,-3,-1,1,3,5,7,9],"range":["#0A2CFF","#6170FF","#9298FF","#C1C3FF","#E9E9FF","#FFFFFF","#FFE9E9","#FFBFBF","#FF9191","#FF6363","#FF2A00"]},"legend":null}
      }},
     {"data":{"name":"lines"},"transform":[{"filter":"datum.p === 'c'"}],
      "mark":{"type":"line","color":"black","strokeWidth":1,"clip":true},
      "encoding":{"x":{"field":"x","type":"quantitative","axis":null},"y":{"field":"y","type":"quantitative","axis":null},"detail":{"field":"k"},"order":{"value":null}}},
     {"data":{"name":"surface"},"transform":[{"filter":"datum.p === 'c'"}],
      "mark":{"type":"line","color":"black","strokeWidth":2.5,"clip":true},
      "encoding":{"x":{"field":"x","type":"quantitative","axis":null},"y":{"field":"y","type":"quantitative","axis":null}}},
     {"data":{"name":"bathy"},
      "mark":{"type":"line","color":"black","strokeWidth":4.5,"clip":true},
      "encoding":{"x":{"field":"x","type":"quantitative","axis":null},"y":{"field":"y","type":"quantitative","axis":null},"order":{"value":null}}},
     {"data":{"name":"names"},"transform":[{"filter":"datum.p === 'c'"}],
      "mark":{"type":"text","align":"left","baseline":"middle","fontSize":21},
      "encoding":{"x":{"field":"x","type":"quantitative","axis":null},"y":{"field":"y","type":"quantitative","axis":null},"text":{"field":"t"}}},
     {"data":{"name":"clabels"},"transform":[{"filter":"datum.p === 'c'"}],
      "mark":{"type":"text","align":"center","baseline":"middle","fontSize":21},
      "encoding":{"x":{"field":"x","type":"quantitative","axis":{"orient":"top","values":[-60,-55,-50,-45],"labels":false,"title":null}},
                  "y":{"field":"y","type":"quantitative","axis":{"orient":"right","values":[0,1,2,3],"labels":false,"title":null}},"text":{"field":"t"}}}
    ],
    "resolve":{"axis":{"x":"independent","y":"independent"}}
   },
   {
    "width":497.5,"height":209,
    "layer":[
     {"data":{"name":"cells"},"transform":[{"filter":"datum.p === 'd'"}],
      "mark":{"type":"rect","opacity":0.85},
      "encoding":{
       "x":{"field":"x1","type":"quantitative","scale":{"domain":[-62.82,-43.93],"nice":false,"zero":false},
            "axis":{"orient":"bottom","values":[-60,-55,-50,-45],"labelExpr":"abs(datum.value) + 'W'","labelPadding":17,"labelFlush":false,"title":"longitude","titlePadding":7}},
       "x2":{"field":"x2"},
       "y":{"field":"y1","type":"quantitative","scale":{"domain":[0,3.5],"reverse":true,"nice":false,"zero":false},
            "axis":{"values":[0,1,2,3],"labels":false,"title":null}},
       "y2":{"field":"y2"},
       "color":{"field":"v","type":"quantitative","scale":{"type":"threshold","domain":[-9,-7,-5,-3,-1,1,3,5,7,9],"range":["#0A2CFF","#6170FF","#9298FF","#C1C3FF","#E9E9FF","#FFFFFF","#FFE9E9","#FFBFBF","#FF9191","#FF6363","#FF2A00"]},"legend":null}
      }},
     {"data":{"name":"lines"},"transform":[{"filter":"datum.p === 'd'"}],
      "mark":{"type":"line","color":"black","strokeWidth":1,"clip":true},
      "encoding":{"x":{"field":"x","type":"quantitative","axis":null},"y":{"field":"y","type":"quantitative","axis":null},"detail":{"field":"k"},"order":{"value":null}}},
     {"data":{"name":"surface"},"transform":[{"filter":"datum.p === 'd'"}],
      "mark":{"type":"line","color":"black","strokeWidth":2.5,"clip":true},
      "encoding":{"x":{"field":"x","type":"quantitative","axis":null},"y":{"field":"y","type":"quantitative","axis":null}}},
     {"data":{"name":"bathy"},
      "mark":{"type":"line","color":"black","strokeWidth":4.5,"clip":true},
      "encoding":{"x":{"field":"x","type":"quantitative","axis":null},"y":{"field":"y","type":"quantitative","axis":null},"order":{"value":null}}},
     {"data":{"name":"names"},"transform":[{"filter":"datum.p === 'd'"}],
      "mark":{"type":"text","align":"left","baseline":"middle","fontSize":21},
      "encoding":{"x":{"field":"x","type":"quantitative","axis":null},"y":{"field":"y","type":"quantitative","axis":null},"text":{"field":"t"}}},
     {"data":{"name":"clabels"},"transform":[{"filter":"datum.p === 'd'"}],
      "mark":{"type":"text","align":"center","baseline":"middle","fontSize":21},
      "encoding":{"x":{"field":"x","type":"quantitative","axis":{"orient":"top","values":[-60,-55,-50,-45],"labels":false,"title":null}},
                  "y":{"field":"y","type":"quantitative","axis":{"orient":"right","values":[0,1,2,3],"labels":false,"title":null}},"text":{"field":"t"}}}
    ],
    "resolve":{"axis":{"x":"independent","y":"independent"}}
   }
  ]
 },
 {
  "width":1010,"height":30,
  "data":{"name":"bar"},
  "view":{"stroke":"black","strokeWidth":2.5},
  "mark":{"type":"rect","stroke":"black","strokeWidth":1.5},
  "encoding":{
   "x":{"field":"lo","type":"quantitative","scale":{"domain":[-11,11],"nice":false,"zero":false},
        "axis":{"values":[-11,-9,-7,-5,-3,-1,1,3,5,7,9,11],"ticks":false,"labelPadding":10.5,"labelFlush":false,"title":"normal current (cm s⁻¹)","titlePadding":13}},
   "x2":{"field":"hi"},
   "color":{"field":"m","type":"quantitative","scale":{"type":"threshold","domain":[-9,-7,-5,-3,-1,1,3,5,7,9],"range":["#0A2CFF","#6170FF","#9298FF","#C1C3FF","#E9E9FF","#FFFFFF","#FFE9E9","#FFBFBF","#FF9191","#FF6363","#FF2A00"]},"legend":null}
  }
 }
]
}
